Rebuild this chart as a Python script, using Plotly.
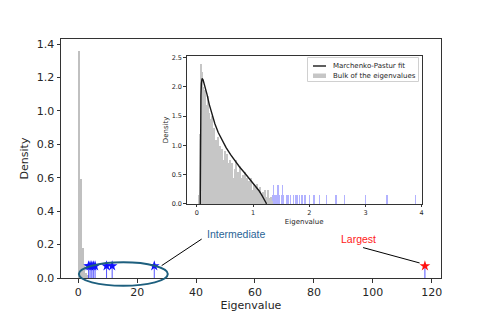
import plotly.graph_objects as go

# ---------------- data ----------------
# Main panel: histogram of the bulk (bin width 0.6)
main_bin_width = 0.6
main_bin_centers = [0.3, 0.9, 1.5, 2.1, 2.7, 3.3]
main_bin_heights = [1.36, 0.59, 0.18, 0.08, 0.03, 0.015]

# Outlier eigenvalues shown as stems with stars
intermediate_eigs = [3.5, 4.0, 4.6, 5.1, 5.7, 9.6, 11.5, 25.8]
largest_eigs = [117.7]
stem_height = 0.072

# Inset: histogram of the bulk (bin width 0.02)
inset_bin_width = 0.02
inset_bin_start = 0.03
inset_bin_heights = [
    0.15, 1.20, 2.40, 2.25, 2.00, 1.85, 1.95, 1.70, 1.85, 1.55,
    1.45, 1.35, 1.50, 1.05, 1.30, 1.10, 0.95, 1.15, 0.85, 1.00,
    0.80, 0.95, 0.75, 0.90, 0.65, 0.85, 0.70, 0.50, 0.75, 0.60,
    0.70, 0.45, 0.60, 0.75, 0.45, 0.55, 0.40, 0.65, 0.45, 0.50,
    0.35, 0.55, 0.30, 0.45, 0.25, 0.40, 0.30, 0.45, 0.25, 0.35,
    0.30, 0.20, 0.35, 0.25, 0.20, 0.30, 0.15, 0.20, 0.12, 0.25,
    0.10, 0.12, 0.25, 0.10, 0.12, 0.06,
]
inset_bin_centers = [round(inset_bin_start + inset_bin_width * i, 3)
                     for i in range(len(inset_bin_heights))]

# Inset: outliers beyond the bulk edge
outlier_pos = [1.34, 1.36, 1.38, 1.40, 1.42, 1.44, 1.46, 1.50, 1.52, 1.54,
               1.60, 1.62, 1.66, 1.72, 1.76, 1.78, 1.82, 1.86, 1.88, 1.92,
               2.00, 2.08, 2.18, 2.30, 2.46, 2.48, 2.62, 3.00, 3.38, 3.88]
outlier_heights = [0.16, 0.33, 0.16, 0.16, 0.16, 0.33, 0.16, 0.16, 0.33, 0.16,
                   0.16, 0.16, 0.16, 0.16, 0.16, 0.16, 0.16, 0.16, 0.16, 0.16,
                   0.16, 0.16, 0.16, 0.16, 0.16, 0.16, 0.16, 0.16, 0.16, 0.16]

# Inset: Marchenko-Pastur fit
mp_x = [0.06, 0.062, 0.066, 0.072, 0.08, 0.092, 0.11, 0.14, 0.18, 0.22,
        0.27, 0.32, 0.38, 0.45, 0.52, 0.60, 0.68, 0.76, 0.84, 0.92,
        1.00, 1.06, 1.11, 1.15, 1.19, 1.215, 1.23, 1.24]
mp_y = [0.0, 0.9, 1.5, 1.85, 2.06, 2.14, 2.12, 2.03, 1.87, 1.70,
        1.52, 1.37, 1.22, 1.08, 0.96, 0.84, 0.73, 0.63, 0.54, 0.45,
        0.36, 0.29, 0.22, 0.16, 0.10, 0.05, 0.02, 0.0]

legend_labels = ["Marchenko-Pastur fit", "Bulk of the eigenvalues"]

# ---------------- figure ----------------
FONT = "DejaVu Sans"
TXT = "#262626"
X_RANGE = [-5.87, 123.16]
Y_RANGE = [0, 1.43]
GRAY = "#c6c6c6"

fig = go.Figure()

fig.add_trace(go.Bar(x=main_bin_centers, y=main_bin_heights, width=main_bin_width,
                     marker=dict(color="rgb(192,192,192)", line=dict(width=0)),
                     showlegend=False, xaxis="x", yaxis="y"))


def stems(vals, h):
    xs, ys = [], []
    for v in vals:
        xs += [v, v, None]
        ys += [0, h, None]
    return xs, ys


sx, sy = stems(intermediate_eigs, stem_height)
fig.add_trace(go.Scatter(x=sx, y=sy, mode="lines", line=dict(color="rgba(40,40,255,0.8)", width=1),
                         showlegend=False, hoverinfo="skip"))
fig.add_trace(go.Scatter(x=intermediate_eigs, y=[stem_height] * len(intermediate_eigs), mode="markers",
                         marker=dict(symbol="star", size=8, color="#1010ff", line=dict(width=0)),
                         showlegend=False))
lx, ly = stems(largest_eigs, stem_height)
fig.add_trace(go.Scatter(x=lx, y=ly, mode="lines", line=dict(color="rgba(40,40,255,0.8)", width=1),
                         showlegend=False, hoverinfo="skip"))
fig.add_trace(go.Scatter(x=largest_eigs, y=[stem_height] * len(largest_eigs), mode="markers",
                         marker=dict(symbol="star", size=8, color="#ff1010", line=dict(width=0)),
                         showlegend=False))

# Inset traces
fig.add_trace(go.Bar(x=outlier_pos, y=outlier_heights, width=inset_bin_width,
                     marker=dict(color="rgba(0,0,255,0.3)", line=dict(width=0)),
                     showlegend=False, xaxis="x2", yaxis="y2"))
fig.add_trace(go.Bar(x=inset_bin_centers, y=inset_bin_heights, width=inset_bin_width * 1.1,
                     name=legend_labels[1], showlegend=False,
                     marker=dict(color=GRAY, line=dict(width=0)),
                     xaxis="x2", yaxis="y2"))
fig.add_trace(go.Scatter(x=mp_x, y=mp_y, mode="lines", name=legend_labels[0], showlegend=False,
                         line=dict(color="#1a1a1a", width=1.4), xaxis="x2", yaxis="y2"))

axis_common = dict(showline=True, mirror=True, linecolor="#333333", linewidth=1, automargin=False,
                   ticks="outside", tickcolor="#333333", showgrid=False, zeroline=False)

fig.update_layout(
    width=491, height=319,
    margin=dict(l=61, r=50, t=39, b=41),
    paper_bgcolor="white", plot_bgcolor="white",
    barmode="overlay", bargap=0,
    font=dict(family=FONT, color=TXT),
    showlegend=False,
    xaxis=dict(domain=[0, 1], range=X_RANGE, tickvals=[0, 20, 40, 60, 80, 100, 120],
               ticklen=3.5, tickfont=dict(size=11, family=FONT, color=TXT),
               title=dict(text="Eigenvalue", font=dict(size=11, family=FONT, color=TXT), standoff=3),
               **axis_common),
    yaxis=dict(domain=[0, 1], range=Y_RANGE, tickvals=[0, 0.2, 0.4, 0.6, 0.8, 1.0, 1.2, 1.4],
               tickformat=".1f", ticklen=3.5, tickfont=dict(size=11, family=FONT, color=TXT),
               title=dict(text="Density", font=dict(size=11, family=FONT, color=TXT), standoff=5),
               **axis_common),
    xaxis2=dict(domain=[0.331, 0.949], anchor="y2", range=[-0.18, 4.0], tickvals=[0, 1, 2, 3, 4],
                ticklen=2.5, tickfont=dict(size=6.5, family=FONT, color=TXT),
                title=dict(text="Eigenvalue", font=dict(size=7, family=FONT, color=TXT), standoff=2),
                **axis_common),
    yaxis2=dict(domain=[0.310, 0.930], anchor="x2", range=[0, 2.53],
                tickvals=[0, 0.5, 1.0, 1.5, 2.0, 2.5], tickformat=".1f",
                ticklen=2.5, tickfont=dict(size=6.5, family=FONT, color=TXT),
                title=dict(text="Density", font=dict(size=7, family=FONT, color=TXT), standoff=2),
                **axis_common),
)

# ---- geometry helpers (paper coordinates) ----
PW, PH = 491 - 61 - 50, 319 - 39 - 41   # plot area in px


def px(xd):
    return (xd - X_RANGE[0]) / (X_RANGE[1] - X_RANGE[0])


def py(yd):
    return (yd - Y_RANGE[0]) / (Y_RANGE[1] - Y_RANGE[0])


def pix_x(p):   # pixel (window) -> paper x
    return (p - 61) / PW


def pix_y(p):   # pixel (window) -> paper y
    return (319 - 41 - p) / PH


# ---- custom inset legend ----
fig.add_shape(type="rect", xref="paper", yref="paper",
              x0=pix_x(307.5), x1=pix_x(418.5), y0=pix_y(81.5), y1=pix_y(57.5),
              line=dict(color="#d0d0d0", width=1), fillcolor="rgba(255,255,255,0.85)", layer="above")
fig.add_shape(type="line", xref="paper", yref="paper",
              x0=pix_x(313), x1=pix_x(326), y0=pix_y(66), y1=pix_y(66),
              line=dict(color="#1a1a1a", width=1.4), layer="above")
fig.add_shape(type="rect", xref="paper", yref="paper",
              x0=pix_x(313), x1=pix_x(326), y0=pix_y(78), y1=pix_y(73.5),
              line=dict(width=0), fillcolor=GRAY, layer="above")
for lbl, yy in zip(legend_labels, [66, 75.8]):
    fig.add_annotation(text=lbl, xref="paper", yref="paper", x=pix_x(331), y=pix_y(yy),
                       xanchor="left", yanchor="middle", showarrow=False,
                       font=dict(size=7, family=FONT, color=TXT))

# ---- ellipse and callouts ----
ELL = "#1d5f7e"
fig.add_shape(type="circle", xref="paper", yref="paper",
              x0=px(0.2), x1=px(30.4), y0=py(-0.047), y1=py(0.094),
              line=dict(color=ELL, width=2), layer="above")
fig.add_shape(type="line", xref="paper", yref="paper",
              x0=px(28.3), y0=py(0.074), x1=px(41.9), y1=py(0.233),
              line=dict(color="black", width=1))
fig.add_shape(type="line", xref="paper", yref="paper",
              x0=px(96.7), y0=py(0.182), x1=px(115.9), y1=py(0.09),
              line=dict(color="black", width=1))

fig.add_annotation(text="Intermediate", xref="paper", yref="paper",
                   x=px(43.0), y=py(0.262), xanchor="left", yanchor="middle", showarrow=False,
                   font=dict(family="Liberation Sans", size=10.5, color="#2a6496"))
fig.add_annotation(text="Largest", xref="paper", yref="paper",
                   x=px(95.3), y=py(0.235), xanchor="center", yanchor="middle", showarrow=False,
                   font=dict(family="Liberation Sans", size=10.5, color="#ff2020"))

fig.write_html("out.html", config={"displayModeBar": False},
               post_script="document.body.style.margin='0';")
